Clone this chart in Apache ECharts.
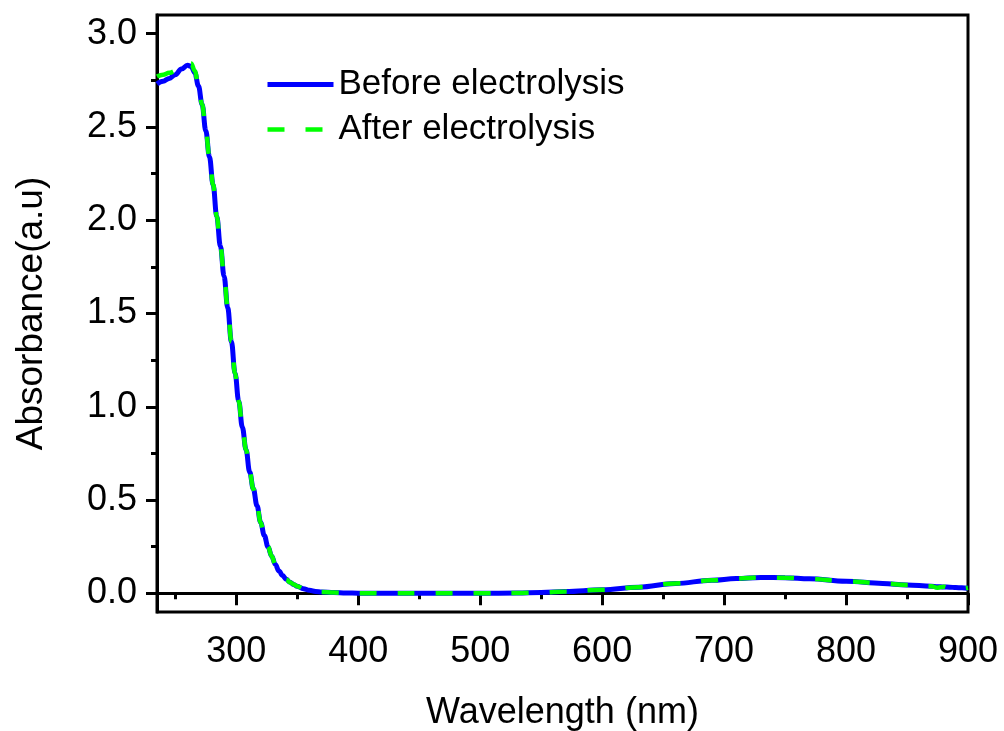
<!DOCTYPE html>
<html>
<head>
<meta charset="utf-8">
<script src="https://cdn.jsdelivr.net/npm/echarts@6/dist/echarts.min.js"></script>
<style>html,body{margin:0;padding:0;background:#fff}#c{width:1004px;height:731px}</style>
</head>
<body>
<div id="c"></div>
<script>
var wavelengths = [235,240,245,250,255,260,263,266,269,272,275,278,281,284,287,290,293,296,299,302,305,308,311,314,317,320,323,326,329,332,335,338,341,344,347,350,355,360,365,370,380,390,400,420,450,500,530,550,570,600,630,660,690,710,730,750,770,800,830,850,870,875,880,885,890,895,900];
var beforeVals = [2.73,2.745,2.76,2.78,2.81,2.83,2.825,2.79,2.72,2.62,2.48,2.34,2.19,2.02,1.86,1.70,1.53,1.35,1.18,1.03,0.89,0.77,0.65,0.56,0.47,0.38,0.31,0.25,0.20,0.155,0.12,0.095,0.075,0.06,0.048,0.038,0.025,0.016,0.010,0.007,0.004,0.002,0.001,0.0,0.0,0.0,0.002,0.005,0.010,0.019,0.033,0.053,0.070,0.079,0.085,0.084,0.078,0.065,0.053,0.045,0.038,0.036,0.034,0.033,0.031,0.030,0.027];
var afterVals = [2.77,2.78,2.79,2.80,2.82,2.845,2.84,2.80,2.72,2.62,2.48,2.34,2.19,2.02,1.86,1.70,1.53,1.35,1.18,1.03,0.89,0.77,0.65,0.56,0.47,0.38,0.31,0.25,0.20,0.155,0.12,0.095,0.075,0.06,0.048,0.038,0.025,0.016,0.010,0.007,0.004,0.002,0.001,0.0,0.0,0.0,0.002,0.005,0.010,0.019,0.033,0.053,0.070,0.079,0.085,0.084,0.078,0.065,0.053,0.045,0.038,0.030,0.036,0.028,0.035,0.026,0.030];
var seriesNames = ['Before electrolysis','After electrolysis'];
var xMajorTicks = [300,400,500,600,700,800,900];
var xMinorTicks = [250,350,450,550,650,750,850];
var yMajorTicks = [0,0.5,1.0,1.5,2.0,2.5,3.0];
var yMinorTicks = [0.25,0.75,1.25,1.75,2.25,2.75];
var xTitle = 'Wavelength (nm)';
var yTitle = 'Absorbance(a.u)';

function pairs(xs, ys){ return xs.map(function(x,i){return [x, ys[i]];}); }

var FONT = 'Liberation Sans';
var BLUE = '#0000ff', GREEN = '#00ff00';
var blueLine = {color:BLUE, width:5};
var greenLine = {color:GREEN, width:4.5, type:[17,21]};
var chart = echarts.init(document.getElementById('c'), null, {renderer:'canvas'});
var xRange = [235, 900], yRange = [-0.1, 3.1];
chart.setOption({
  animation:false,
  backgroundColor:'#fff',
  grid:{left:157, right:36, top:15, bottom:119, show:true, borderColor:'#000', borderWidth:3,
    containLabel:false, outerBoundsMode:'none'},
  legend:{
    orient:'vertical', left:260, top:62, itemWidth:66, itemHeight:20, itemGap:10,
    textStyle:{fontFamily:FONT, fontSize:35, color:'#000'},
    itemStyle:{opacity:0},
    data:[
      {name:seriesNames[0], lineStyle:blueLine, itemStyle:{opacity:0}},
      {name:seriesNames[1], lineStyle:greenLine, itemStyle:{opacity:0}}
    ]
  },
  xAxis:[{
    type:'value', min:xRange[0], max:xRange[1], position:'bottom',
    name:xTitle, nameLocation:'middle', nameGap:83,
    nameTextStyle:{fontFamily:FONT, fontSize:36, color:'#000'},
    axisLine:{show:true, lineStyle:{color:'#000', width:3}},
    axisTick:{show:true, inside:false, length:12, lineStyle:{color:'#000', width:3}, customValues:xMajorTicks},
    axisLabel:{fontFamily:FONT, fontSize:36, color:'#000', margin:22, customValues:xMajorTicks},
    splitLine:{show:false}
  },{
    type:'value', min:xRange[0], max:xRange[1], position:'bottom',
    axisLine:{show:false},
    axisTick:{show:true, inside:false, length:6, lineStyle:{color:'#000', width:3}, customValues:xMinorTicks},
    axisLabel:{show:false},
    splitLine:{show:false}
  }],
  yAxis:[{
    type:'value', min:yRange[0], max:yRange[1], position:'left',
    name:yTitle, nameLocation:'middle', nameGap:107, nameRotate:90,
    nameTextStyle:{fontFamily:FONT, fontSize:37, color:'#000'},
    axisLine:{show:true, lineStyle:{color:'#000', width:3}},
    axisTick:{show:true, inside:false, length:11, lineStyle:{color:'#000', width:3}, customValues:yMajorTicks},
    axisLabel:{fontFamily:FONT, fontSize:36, color:'#000', margin:20, customValues:yMajorTicks,
      formatter:function(v){return v.toFixed(1);}},
    splitLine:{show:false}
  },{
    type:'value', min:yRange[0], max:yRange[1], position:'left',
    axisLine:{show:false},
    axisTick:{show:true, inside:false, length:6, lineStyle:{color:'#000', width:3}, customValues:yMinorTicks},
    axisLabel:{show:false},
    splitLine:{show:false}
  }],
  series:[{
    name:seriesNames[0], type:'line', xAxisIndex:0, yAxisIndex:0,
    data:pairs(wavelengths, beforeVals), symbol:'none',
    smooth:0.4, smoothMonotone:'x',
    lineStyle:blueLine,
    itemStyle:{color:BLUE}
  },{
    name:seriesNames[1], type:'line', xAxisIndex:0, yAxisIndex:0,
    data:pairs(wavelengths, afterVals), symbol:'none',
    smooth:0.4, smoothMonotone:'x',
    lineStyle:greenLine,
    itemStyle:{color:GREEN}
  }]
});
</script>
</body>
</html>
